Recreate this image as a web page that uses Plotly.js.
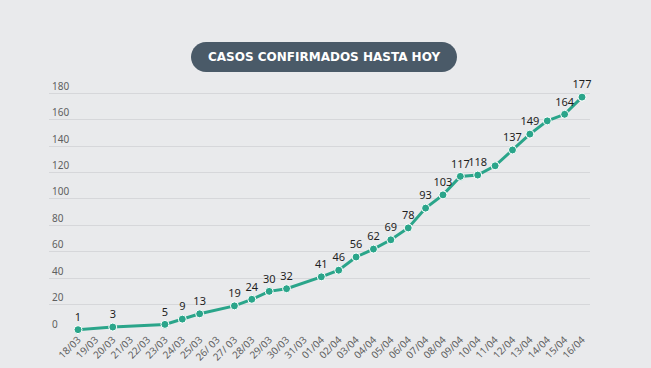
<!DOCTYPE html>
<html>
<head>
<meta charset="utf-8">
<script src="https://cdn.plot.ly/plotly-3.0.1.min.js"></script>
<style>
html,body{margin:0;padding:0;background:#e9eaec;}
#chart{width:651px;height:368px;}
</style>
</head>
<body>
<div id="chart"></div>
<script>
// All day labels on the axis
const dayLabels = ["18/03","19/03","20/03","21/03","22/03","23/03","24/03","25/03","26/ 03","27/ 03","28/03","29/03","30/03","31/03",
  "01/04","02/04","03/04","04/04","05/04","06/04","07/04","08/04","09/04","10/04","11/04","12/04","13/04","14/04","15/04","16/04"];
// Days with a reported value
const pointDays = ["18/03","20/03","23/03","24/03","25/03","27/ 03","28/03","29/03","30/03",
  "01/04","02/04","03/04","04/04","05/04","06/04","07/04","08/04","09/04","10/04","11/04","12/04","13/04","14/04","15/04","16/04"];
const confirmed = [1,3,5,9,13,19,24,30,32,41,46,56,62,69,78,93,103,117,118,125,137,149,159,164,177];
// Labels shown above points (blank where the reference shows none)
const pointLabels = ["1","3","5","9","13","19","24","30","32","41","46","56","62","69","78","93","103","117","118","","137","149","","164","177"];
const yTicks = [0,20,40,60,80,100,120,140,160,180];
const titleText = "CASOS CONFIRMADOS HASTA HOY";

const trace = {
  type: "scatter",
  mode: "lines+markers+text",
  x: pointDays,
  y: confirmed,
  text: pointLabels,
  textposition: "top center",
  textfont: {family: "Noto Sans, DejaVu Sans, sans-serif", size: 11, color: "#1e1e1e"},
  line: {color: "#2aa58a", width: 3},
  marker: {color: "#2aa58a", size: 8, line: {color: "#ffffff", width: 1}},
  cliponaxis: false,
  hoverinfo: "x+y"
};

// pill: half-width of straight part 118, radius 15 (cubic approximation of semicircles)
const k = 15 * 0.5523;
const pillPath =
  "M -118,-15 L 118,-15 " +
  "C " + (118 + k) + ",-15 133," + (-k) + " 133,0 " +
  "C 133," + k + " " + (118 + k) + ",15 118,15 " +
  "L -118,15 " +
  "C " + (-118 - k) + ",15 -133," + k + " -133,0 " +
  "C -133," + (-k) + " " + (-118 - k) + ",-15 -118,-15 Z";

const layout = {
  width: 651, height: 368,
  paper_bgcolor: "#e9eaec",
  plot_bgcolor: "#e9eaec",
  margin: {l: 49, r: 61, t: 72, b: 37, autoexpand: false},
  showlegend: false,
  xaxis: {
    type: "category",
    categoryorder: "array",
    categoryarray: dayLabels,
    tickvals: dayLabels,
    range: [-1.67, 29.46],
    tickangle: -45,
    tickfont: {family: "Noto Sans, DejaVu Sans, sans-serif", size: 10, color: "#5f5f5f"},
    showgrid: false,
    zeroline: false,
    showline: false,
    ticks: "",
    automargin: false
  },
  yaxis: {
    range: [0, 196],
    tickvals: yTicks,
    ticktext: yTicks.map(String),
    ticklabelposition: "inside top",
    tickfont: {family: "Noto Sans, DejaVu Sans, sans-serif", size: 10, color: "#5f5f5f"},
    showgrid: true,
    gridcolor: "#d6d7da",
    gridwidth: 1,
    zeroline: false,
    showline: false,
    ticks: "",
    automargin: false
  },
  shapes: [{
    type: "path",
    xref: "paper", yref: "paper",
    xsizemode: "pixel", ysizemode: "pixel",
    xanchor: 0.5083, yanchor: 1.0,
    path: pillPath,
    fillcolor: "#4a5a68",
    line: {width: 0},
    layer: "above"
  }],
  annotations: [{
    xref: "paper", yref: "paper",
    x: 0.5083, y: 1.0,
    xanchor: "center", yanchor: "middle",
    text: "<b>" + titleText + "</b>",
    showarrow: false,
    font: {family: "DejaVu Sans, sans-serif", size: 12, color: "#ffffff"}
  }]
};

// place pill centre at pixel y = 57 (plot area spans y 72 .. 331)
const plotTop = 72, plotBottom = 368 - 37;
const pillY = (plotBottom - 57) / (plotBottom - plotTop);
layout.shapes[0].yanchor = pillY;
layout.annotations[0].y = pillY;

Plotly.newPlot("chart", [trace], layout, {displayModeBar: false, staticPlot: true});
</script>
</body>
</html>
